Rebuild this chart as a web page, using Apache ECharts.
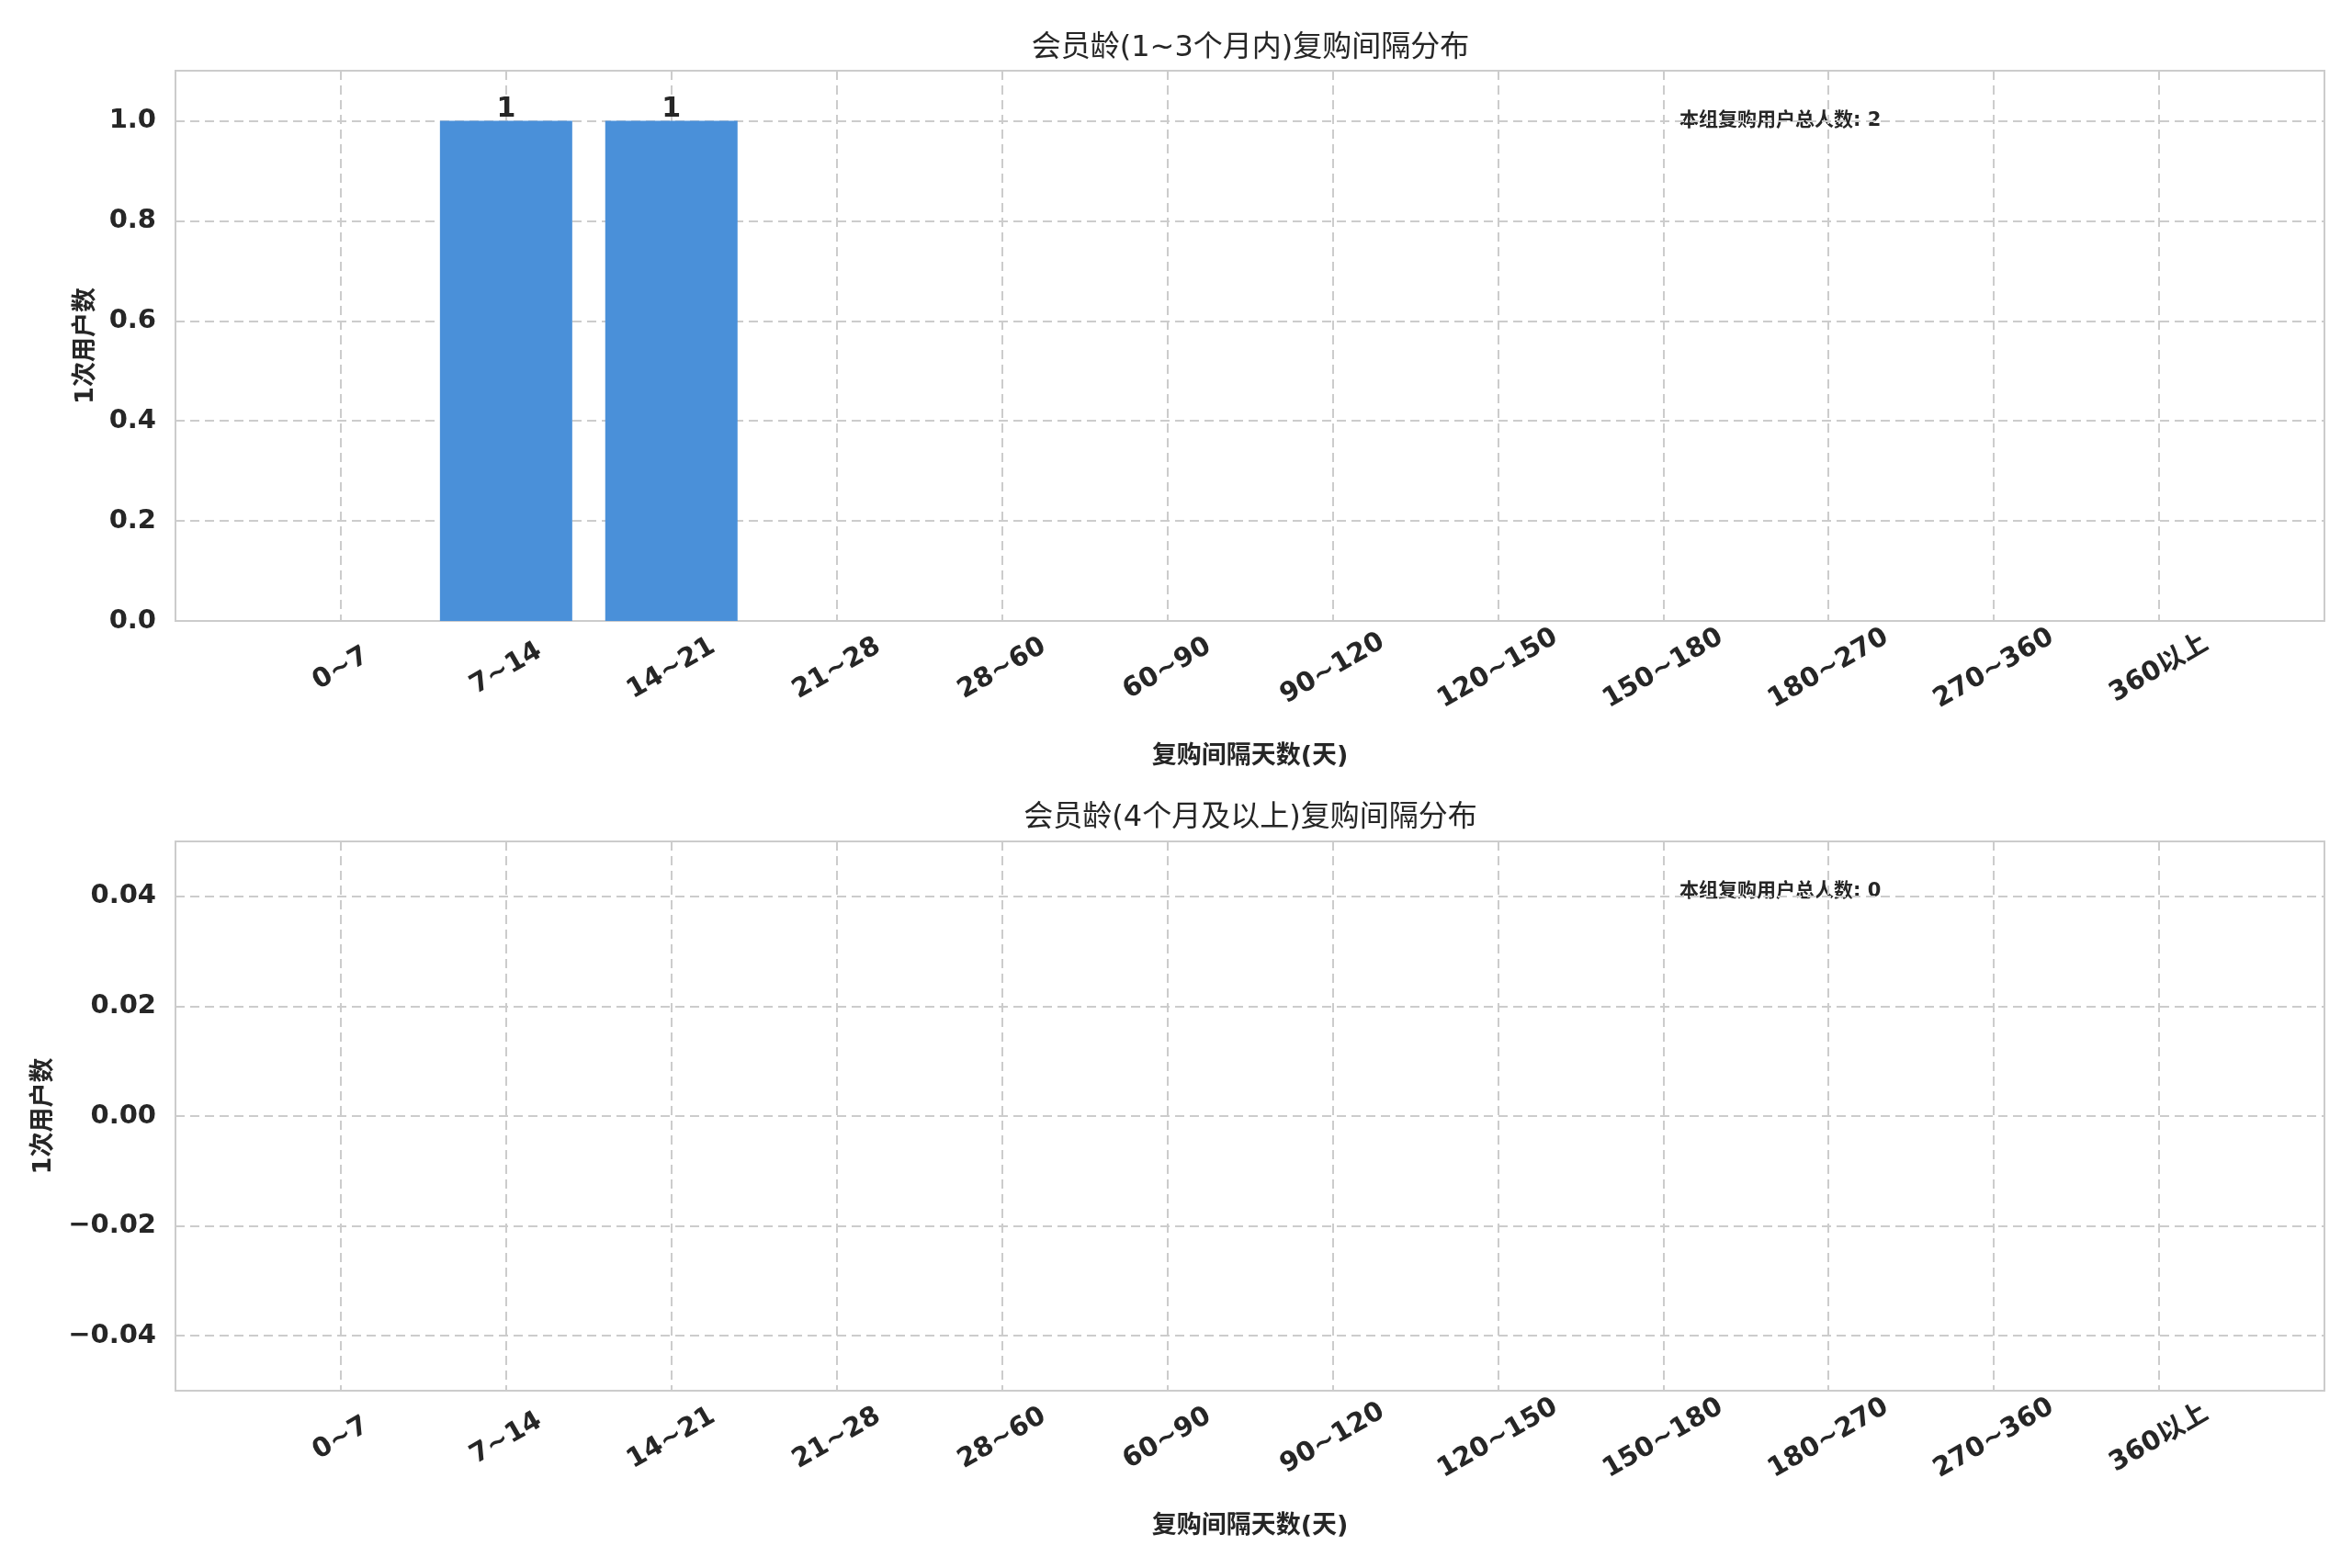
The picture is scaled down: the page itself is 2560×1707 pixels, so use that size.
<!DOCTYPE html>
<html><head><meta charset="utf-8">
<script src="https://cdn.jsdelivr.net/npm/echarts@6/dist/echarts.min.js"></script>
<style>html,body{margin:0;padding:0;background:#fff}#c{width:2560px;height:1707px}</style>
</head><body><div id="c"></div>
<script>
const categories = ['0~7','7~14','14~21','21~28','28~60','60~90','90~120','120~150','150~180','180~270','270~360','360以上'];
const countsGroup1 = [0,1,1,0,0,0,0,0,0,0,0,0];
const countsGroup2 = [0,0,0,0,0,0,0,0,0,0,0,0];
const titles = ['会员龄(1~3个月内)复购间隔分布','会员龄(4个月及以上)复购间隔分布'];
const xAxisName = '复购间隔天数(天)';
const yAxisName = '1次用户数';
const totalLabel = '本组复购用户总人数';
const totals = [2, 0];

const FONT = '"DejaVu Sans","Noto Sans CJK SC",sans-serif';
const TXT = '#262626';
const GRID = '#cccccc';

const chart = echarts.init(document.getElementById('c'), null, {renderer:'canvas'});

function xAxisCfg(idx){
  return {
    gridIndex: idx, type:'value', min:-1, max:12, interval:1,
    name: xAxisName, nameLocation:'middle', nameGap:134,
    nameTextStyle:{fontFamily:FONT, fontSize:27, fontWeight:'bold', color:TXT},
    axisLine:{show:false}, axisTick:{show:false},
    axisLabel:{
      rotate:30, align:'center', verticalAlign:'middle', margin:52,
      fontFamily:FONT, fontSize:29, fontWeight:'bold', color:TXT,
      showMinLabel:false, showMaxLabel:false,
      formatter:function(v){const i=Math.round(v);return (Math.abs(v-i)<1e-6&&i>=0&&i<categories.length)?categories[i]:'';}
    },
    splitLine:{show:true, lineStyle:{color:GRID, width:2, type:[10,6]}}
  };
}
function fmtTop(v){const r=Math.round(v/0.2)*0.2;return Math.abs(v-r)<1e-9?v.toFixed(1):'';}
function fmtBot(v){const r=Math.round(v/0.02)*0.02;if(Math.abs(v-r)>1e-9)return '';const s=Math.abs(v).toFixed(2);return v< -1e-9?'\u2212'+s:s;}

function yAxisCfg(idx,min,max,fmt,gap){
  return {
    gridIndex: idx, type:'value', min:min, max:max, splitNumber:5,
    name: yAxisName, nameLocation:'middle', nameGap:gap, nameRotate:90,
    nameTextStyle:{fontFamily:FONT, fontSize:27, fontWeight:'bold', color:TXT},
    axisLine:{show:false}, axisTick:{show:false},
    axisLabel:{margin:21, fontFamily:FONT, fontSize:29, fontWeight:'bold', color:TXT, formatter:fmt, showMinLabel:idx===0, showMaxLabel:false},
    splitLine:{show:true, lineStyle:{color:GRID, width:2, type:[10,6]}}
  };
}
function barSeries(idx, arr){
  return {
    type:'bar', xAxisIndex:idx, yAxisIndex:idx,
    data: arr.map((v,i)=>[i,v]),
    barWidth:144,
    itemStyle:{color:'#4a90d9', borderWidth:0},
    label:{show:true, position:'top', distance:-3, fontFamily:FONT, fontSize:30, fontWeight:'bold', color:TXT,
      formatter:function(p){return p.value[1]>0?String(p.value[1]):'';}},
    silent:true, animation:false
  };
}

chart.setOption({
  backgroundColor:'#ffffff',
  animation:false,
  title:[
    {text:titles[0], left:1361, top:37, textAlign:'center', padding:0, textStyle:{fontFamily:FONT, fontSize:32, fontWeight:'normal', color:TXT}},
    {text:titles[1], left:1361, top:875, textAlign:'center', padding:0, textStyle:{fontFamily:FONT, fontSize:32, fontWeight:'normal', color:TXT}}
  ],
  grid:[
    {left:191, top:77, width:2339, height:599, show:true, borderColor:GRID, borderWidth:2, containLabel:false},
    {left:191, top:916, width:2339, height:598, show:true, borderColor:GRID, borderWidth:2, containLabel:false}
  ],
  xAxis:[xAxisCfg(0), xAxisCfg(1)],
  yAxis:[yAxisCfg(0,0,1.1,fmtTop,84), yAxisCfg(1,-0.05,0.05,fmtBot,130)],
  series:[barSeries(0,countsGroup1), barSeries(1,countsGroup2)],
  graphic:[
    {type:'text', left:1828, top:121, style:{text:totalLabel+': '+totals[0], font:'bold 21px '+FONT, fill:TXT}},
    {type:'text', left:1828, top:960, style:{text:totalLabel+': '+totals[1], font:'bold 21px '+FONT, fill:TXT}}
  ]
});
</script></body></html>
